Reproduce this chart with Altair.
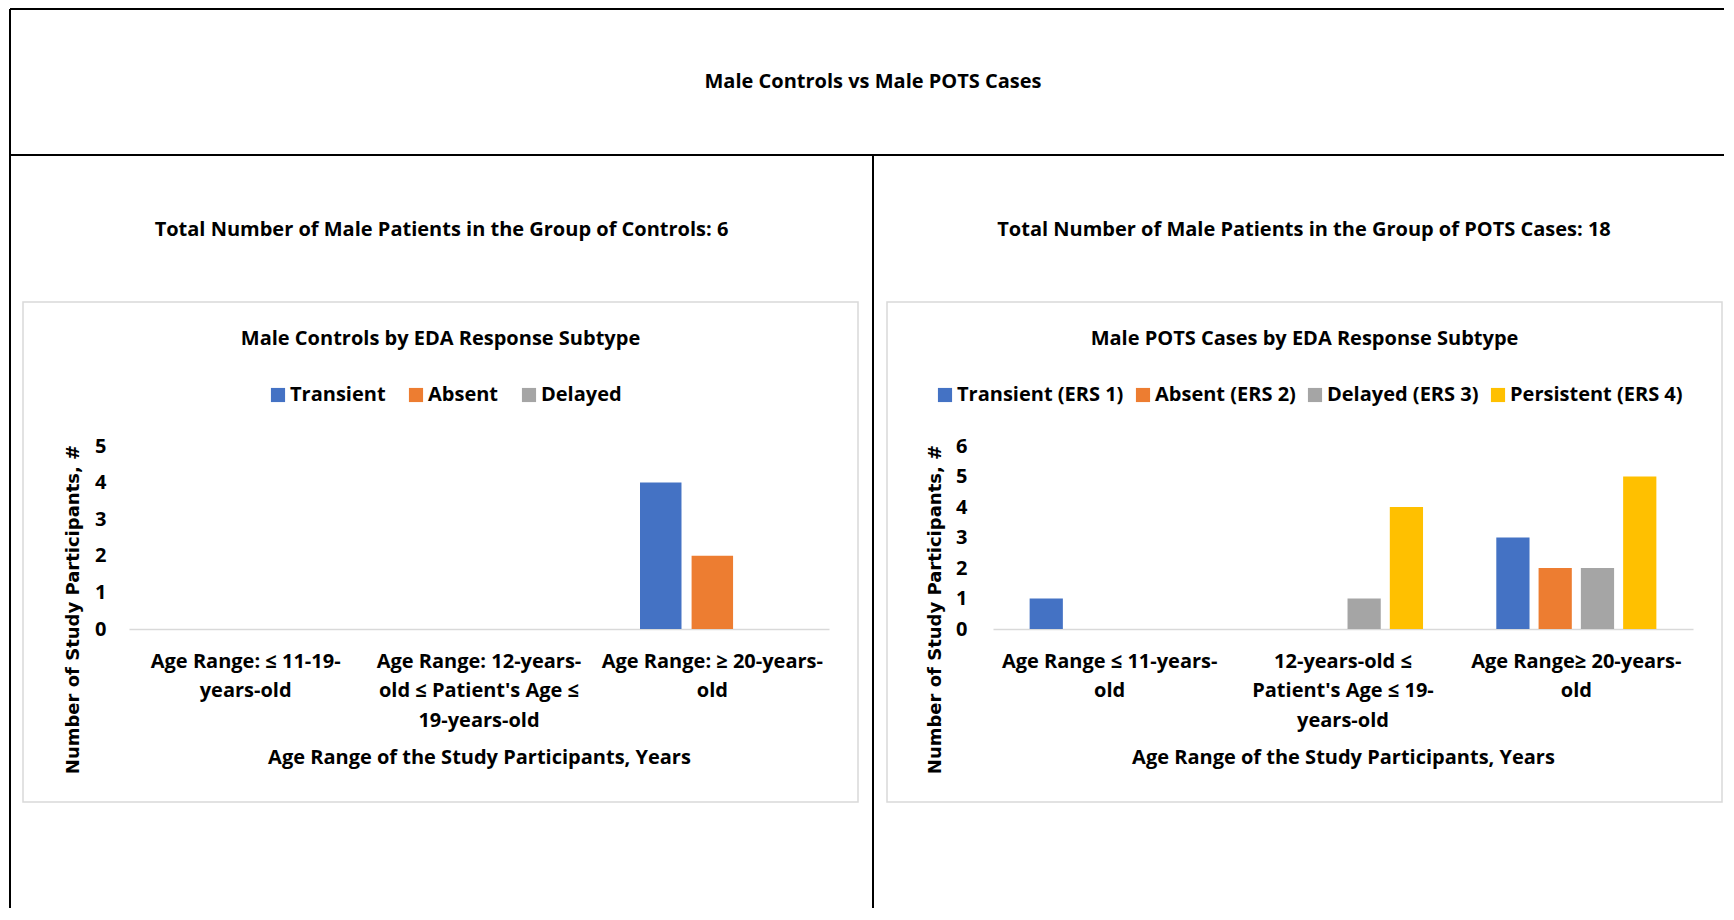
import altair as alt
import pandas as pd

# ---------------- data ----------------
cats_left = [
    "Age Range: ≤ 11-19-\nyears-old",
    "Age Range: 12-years-\nold ≤ Patient's Age ≤\n19-years-old",
    "Age Range: ≥ 20-years-\nold",
]
series_left = ["Transient", "Absent", "Delayed"]
left_transient = [0, 0, 4]
left_absent = [0, 0, 2]
left_delayed = [0, 0, 0]

cats_right = [
    "Age Range ≤ 11-years-\nold",
    "12-years-old ≤\nPatient's Age ≤ 19-\nyears-old",
    "Age Range≥ 20-years-\nold",
]
series_right = ["Transient (ERS 1)", "Absent (ERS 2)", "Delayed (ERS 3)", "Persistent (ERS 4)"]
right_transient = [1, 0, 3]
right_absent = [0, 0, 2]
right_delayed = [0, 1, 2]
right_persistent = [0, 4, 5]

left_ticks = [0, 1, 2, 3, 4, 5]
right_ticks = [0, 1, 2, 3, 4, 5, 6]

colors_left = ["#4472C4", "#ED7D31", "#A5A5A5"]
colors_right = ["#4472C4", "#ED7D31", "#A5A5A5", "#FFC000"]

main_title = "Male Controls vs Male POTS Cases"
sub_left = "Total Number of Male Patients in the Group of Controls: 6"
sub_right = "Total Number of Male Patients in the Group of POTS Cases: 18"
chart_title_left = "Male Controls by EDA Response Subtype"
chart_title_right = "Male POTS Cases by EDA Response Subtype"
x_title = "Age Range of the Study Participants, Years"
y_title = "Number of Study Participants, #"


def long_table(cats, series, columns):
    rows = []
    for s, vals in zip(series, columns):
        for c, v in zip(cats, vals):
            rows.append({"cat": c, "series": s, "value": v})
    return pd.DataFrame(rows)


df_left = long_table(cats_left, series_left, [left_transient, left_absent, left_delayed])
df_right = long_table(cats_right, series_right,
                      [right_transient, right_absent, right_delayed, right_persistent])

# ---------------- styling ----------------
FONT = "Open Sans"
FS = 20
W, H = 700, 183
dummy = pd.DataFrame({"k": [0]})


def xaxis():
    return alt.Axis(
        title=x_title, labelExpr="split(datum.label, '\\n')", labelAngle=0,
        labelFont=FONT, labelFontSize=FS, labelFontWeight="bold", labelColor="black",
        labelLineHeight=29.5, labelPadding=22, labelLimit=400, labelOverlap=False,
        ticks=False, grid=False, domainColor="#d9d9d9", domainWidth=1.5,
        titleFont=FONT, titleFontSize=FS, titleFontWeight="bold", titleColor="black",
        titleY=128, titleBaseline="middle",
    )


def yaxis(ticks, pad, tx):
    return alt.Axis(
        title=y_title, values=ticks, format="d",
        labelFont=FONT, labelFontSize=FS, labelFontWeight="bold", labelColor="black",
        labelPadding=pad, domain=False, ticks=False, grid=False,
        titleFont="DejaVu Sans", titleFontSize=18, titleFontWeight="bold", titleColor="black",
        titleAngle=270, titleX=tx, titleY=163, titleAlign="center", titleBaseline="middle",
    )


def text(s, x, y, size=FS):
    return alt.Chart(dummy).mark_text(
        font=FONT, fontSize=size, fontWeight="bold", color="black",
        align="center", baseline="middle",
    ).encode(x=alt.value(x), y=alt.value(y), text=alt.value(s))


def hrule(x1, x2, y, color="black", w=2):
    return alt.Chart(dummy).mark_rule(color=color, strokeWidth=w).encode(
        x=alt.value(x1), x2=alt.value(x2), y=alt.value(y))


def vrule(x, y1, y2, color="black", w=2):
    return alt.Chart(dummy).mark_rule(color=color, strokeWidth=w).encode(
        x=alt.value(x), y=alt.value(y1), y2=alt.value(y2))


def box(x1, x2, y1, y2):
    return alt.Chart(dummy).mark_rect(fill="transparent", stroke="#d9d9d9", strokeWidth=1.5).encode(
        x=alt.value(x1), x2=alt.value(x2), y=alt.value(y1), y2=alt.value(y2))


# left plot origin on page: (129, 446); right plot origin: (993, 446)
OXL, OY = 129, 446
OXR = 993


def L(px):
    return px - OXL


def T(py):
    return py - OY


def legend(x, pad):
    return alt.Legend(title=None, orient="none", direction="horizontal",
                      legendX=x, legendY=-61, padding=0,
                      symbolType="square", symbolSize=200, symbolStrokeWidth=0,
                      labelFont=FONT, labelFontSize=FS, labelFontWeight="bold",
                      labelColor="black", labelOffset=2, columnPadding=pad,
                      labelLimit=400)


bars_left = alt.Chart(df_left).mark_bar().encode(
    x=alt.X("cat:N", sort=cats_left, axis=xaxis(),
            scale=alt.Scale(paddingInner=0.38, paddingOuter=0.19)),
    xOffset=alt.XOffset("series:N", sort=series_left, scale=alt.Scale(paddingInner=0.196)),
    y=alt.Y("value:Q", axis=yaxis(left_ticks, 23, -56),
            scale=alt.Scale(domain=[0, 5], nice=False)),
    color=alt.Color("series:N", sort=series_left,
                    scale=alt.Scale(domain=series_left, range=colors_left),
                    legend=legend(268 - OXL, 20)),
)

bars_right = alt.Chart(df_right).mark_bar().encode(
    x=alt.X("cat:N", sort=cats_right, axis=xaxis(),
            scale=alt.Scale(paddingInner=0.314, paddingOuter=0.157)),
    xOffset=alt.XOffset("series:N", sort=series_right, scale=alt.Scale(paddingInner=0.214)),
    y=alt.Y("value:Q", axis=yaxis(right_ticks, 26, -58),
            scale=alt.Scale(domain=[0, 6], nice=False)),
    color=alt.Color("series:N", sort=series_right,
                    scale=alt.Scale(domain=series_right, range=colors_right),
                    legend=legend(935 - OXR, 9)),
)

frame = [
    box(L(23), L(858), T(302), T(802)),
    box(L(887), L(1722), T(302), T(802)),
    hrule(L(10), L(1724), T(9)),
    vrule(L(10), T(9), T(908)),
    hrule(L(10), L(1724), T(155)),
    vrule(L(873), T(155), T(908)),
    text(main_title, L(873), T(82)),
    text(sub_left, L(441.5), T(230)),
    text(sub_right, L(1304), T(230)),
    text(chart_title_left, L(440.5), T(339)),
    text(chart_title_right, L(1304.5), T(339)),
]

left = alt.layer(*frame, bars_left).properties(width=W, height=H)
right = alt.layer(bars_right).properties(width=W, height=H)

chart = alt.hconcat(left, right, spacing=OXR - OXL - W, bounds="flush").resolve_scale(
    x="independent", y="independent", color="independent", xOffset="independent"
).resolve_legend(color="independent").properties(
    padding={"left": 1, "top": 0, "right": 0, "bottom": 0}
).configure_view(strokeWidth=0)

chart.save("out.html", embed_options={"renderer": "svg", "actions": False})
